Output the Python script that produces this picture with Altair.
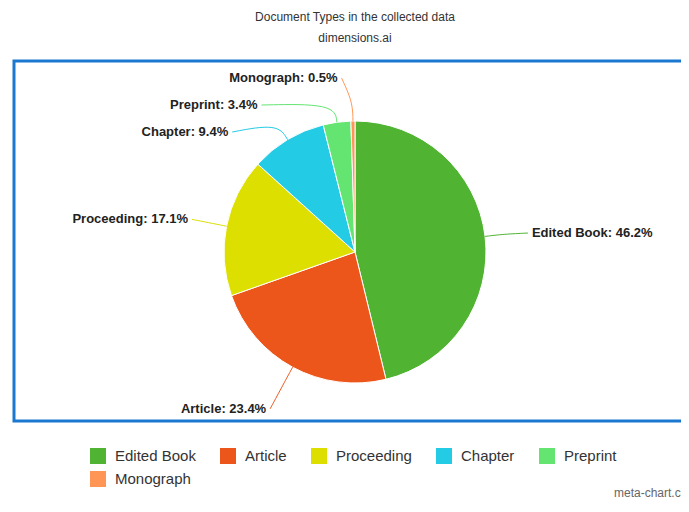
import math
import numpy as np
import pandas as pd
import altair as alt

# ---- data ----
categories = ["Edited Book", "Article", "Proceeding", "Chapter", "Preprint", "Monograph"]
shares = [46.2, 23.4, 17.1, 9.4, 3.4, 0.5]
colors = ["#50B432", "#ED561B", "#DDDF00", "#24CBE5", "#64E572", "#FF9655"]
title_text = "Document Types in the collected data"
subtitle_text = "dimensions.ai"
credit_text = ["meta-chart.com"]

# ---- layout ----
W, H = 667, 360
cx, cy = 341, 191
r_pie = 131
r_bend = 150
ry_lab, rx_lab = 176, 155
pad_left, pad_right = 15, 23
label_dy = 2
gap = 27

total = sum(shares)
rows = []
cum = 0.0
for i, (c, v) in enumerate(zip(categories, shares)):
    mid = (cum + v / 2) / total * 2 * math.pi
    cum += v
    s, co = math.sin(mid), math.cos(mid)
    rows.append(dict(idx=i, cat=c, val=v, sn=s, cs=co,
                     side="right" if s >= 0 else "left",
                     ny=cy - ry_lab * co,
                     label=f"{c}: {v}%"))
df = pd.DataFrame(rows)
df["ly"] = df["ny"]
for side in ["left", "right"]:
    sub = df[df["side"] == side].sort_values("ny")
    prev = -1e9
    for k in sub.index:
        y = max(df.at[k, "ny"], prev + gap)
        df.at[k, "ly"] = y
        prev = y
dy = (df["ly"] - cy) / ry_lab
base = rx_lab * np.sqrt(np.clip(1 - dy ** 2, 0, None))
df["lx"] = np.where(df["side"] == "right", cx + base + pad_right, cx - base - pad_left)
df["ly"] = df["ly"] + label_dy

line_rows = []
for rec in df.to_dict("records"):
    sign = 1 if rec["side"] == "left" else -1
    pts = [
        (rec["lx"] + sign * 4, rec["ly"]),
        (cx + r_bend * rec["sn"], cy - r_bend * rec["cs"]),
        (cx + r_pie * rec["sn"], cy - r_pie * rec["cs"]),
    ]
    for j, (px, py) in enumerate(pts):
        line_rows.append(dict(cat=rec["cat"], o=j, px=px, py=py))
lines_df = pd.DataFrame(line_rows)

color_scale = alt.Scale(domain=categories, range=colors)
xs = alt.Scale(domain=[0, W], nice=False, zero=False)
ys = alt.Scale(domain=[0, H], nice=False, zero=False, reverse=True)

frame = alt.Chart(pd.DataFrame({"a": [0]})).mark_rect(
    fillOpacity=0, stroke="#1b78d0", strokeWidth=3
).encode(x=alt.value(0), x2=alt.value(W + 30), y=alt.value(0), y2=alt.value(H))

arcs = alt.Chart(df).mark_arc(outerRadius=r_pie, stroke="white", strokeWidth=1).encode(
    theta=alt.Theta("val:Q", stack=True),
    order=alt.Order("idx:O"),
    color=alt.Color(
        "cat:N", scale=color_scale,
        legend=alt.Legend(
            title=None, orient="none", legendX=76, legendY=387,
            direction="horizontal", columns=5, symbolType="square",
            symbolSize=256, symbolStrokeWidth=0, labelFontSize=15,
            labelFont="Liberation Sans", labelColor="#333",
            labelOffset=9, columnPadding=24, rowPadding=7,
        ),
    ),
    x=alt.value(cx), y=alt.value(cy),
)

lines = alt.Chart(lines_df).mark_line(strokeWidth=1, interpolate="basis").encode(
    x=alt.X("px:Q", scale=xs, axis=None),
    y=alt.Y("py:Q", scale=ys, axis=None),
    order="o:Q",
    detail="cat:N",
    color=alt.Color("cat:N", scale=color_scale, legend=None),
)

text_left = alt.Chart(df).transform_filter(alt.datum.side == "left").mark_text(
    align="right", baseline="middle", fontSize=13, fontWeight="bold",
    font="Liberation Sans", color="#222"
).encode(x=alt.X("lx:Q", scale=xs, axis=None), y=alt.Y("ly:Q", scale=ys, axis=None), text="label:N")

text_right = alt.Chart(df).transform_filter(alt.datum.side == "right").mark_text(
    align="left", baseline="middle", fontSize=13, fontWeight="bold",
    font="Liberation Sans", color="#222"
).encode(x=alt.X("lx:Q", scale=xs, axis=None), y=alt.Y("ly:Q", scale=ys, axis=None), text="label:N")

credit = alt.Chart(pd.DataFrame({"t": credit_text})).mark_text(
    align="left", baseline="middle", fontSize=12, font="Liberation Sans", color="#666"
).encode(x=alt.value(600), y=alt.value(432), text="t:N")

chart = alt.layer(frame, arcs, lines, text_left, text_right, credit).properties(
    width=W, height=H,
    padding={"left": 6, "top": 53, "right": 0, "bottom": 77},
    autosize=alt.AutoSizeParams(type="none"),
    title=alt.TitleParams(
        text=title_text, subtitle=subtitle_text, anchor="middle",
        fontSize=12, fontWeight="normal", font="Liberation Sans", color="#333",
        subtitleFontSize=12, subtitleFont="Liberation Sans", subtitleColor="#333",
        subtitlePadding=9, offset=15, dx=7.5,
    ),
).configure_view(stroke=None)

chart.save("out.html", embed_options={"renderer": "svg", "actions": False})
